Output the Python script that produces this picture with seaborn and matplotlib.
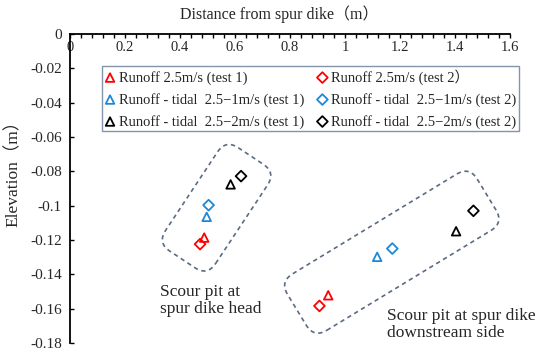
import numpy as np
import pandas as pd
import seaborn as sns
import matplotlib.pyplot as plt
from matplotlib.patches import FancyBboxPatch
from matplotlib.transforms import Affine2D
from matplotlib.ticker import MultipleLocator, FuncFormatter

# --- data ---
x_runoff_t1 = [0.488, 0.939]
y_runoff_t1 = [-0.1186, -0.1522]
x_runoff_t2 = [0.473, 0.907]
y_runoff_t2 = [-0.1224, -0.1584]
x_tidal1_t1 = [0.497, 1.117]
y_tidal1_t1 = [-0.1065, -0.1298]
x_tidal1_t2 = [0.504, 1.172]
y_tidal1_t2 = [-0.0997, -0.1250]
x_tidal2_t1 = [0.584, 1.404]
y_tidal2_t1 = [-0.0876, -0.1149]
x_tidal2_t2 = [0.622, 1.467]
y_tidal2_t2 = [-0.0828, -0.1030]

labels = ["Runoff 2.5m/s (test 1)",
          "Runoff - tidal  2.5\u22121m/s (test 1)",
          "Runoff - tidal  2.5\u22122m/s (test 1)",
          "Runoff 2.5m/s (test 2\uff09",
          "Runoff - tidal  2.5\u22121m/s (test 2)",
          "Runoff - tidal  2.5\u22122m/s (test 2)"]
xs = [x_runoff_t1, x_tidal1_t1, x_tidal2_t1, x_runoff_t2, x_tidal1_t2, x_tidal2_t2]
ys = [y_runoff_t1, y_tidal1_t1, y_tidal2_t1, y_runoff_t2, y_tidal1_t2, y_tidal2_t2]
colors = ["#ff0000", "#1e88d8", "#000000"] * 2
markers = ["^"] * 3 + ["D"] * 3

sns.set_theme(style="white")
FONT = ["Liberation Serif", "Noto Sans CJK SC", "DejaVu Sans"]
plt.rcParams["font.family"] = FONT
plt.rcParams["axes.unicode_minus"] = False

fig = plt.figure(figsize=(5.5, 3.54), dpi=100)
ax = fig.add_axes([70 / 550, 1 - 343 / 354, 440 / 550, 309 / 354])

for x, y, lab, c, m in zip(xs, ys, labels, colors, markers):
    sns.scatterplot(x=x, y=y, ax=ax, marker=m, s=38 if m == "^" else 30,
                    color=c, facecolor="none", edgecolor=c, linewidth=1.3,
                    label=lab)

ax.set_xlim(0, 1.6)
ax.set_ylim(-0.18, 0)
ax.xaxis.set_major_locator(MultipleLocator(0.2))
ax.xaxis.set_minor_locator(MultipleLocator(0.04))
ax.yaxis.set_major_locator(MultipleLocator(0.02))
fmt = FuncFormatter(lambda v, p: "%g" % round(v, 4))
ax.xaxis.set_major_formatter(fmt)
ax.yaxis.set_major_formatter(fmt)

for s in ["right", "bottom"]:
    ax.spines[s].set_visible(False)
for s in ["left", "top"]:
    ax.spines[s].set_color("black")
    ax.spines[s].set_linewidth(1.3)

ax.tick_params(axis="x", which="both", top=True, bottom=False, labeltop=True,
               labelbottom=False, direction="in", color="black", width=1,
               pad=-14.5, labelsize=10.5)
ax.tick_params(axis="x", which="major", length=3)
ax.tick_params(axis="x", which="minor", length=3)
ax.tick_params(axis="y", which="major", left=True, direction="in", length=3,
               width=1, color="black", labelsize=11, pad=6)

ax.set_xlabel("Distance from spur dike\uff08m\uff09", fontsize=11.5)
ax.xaxis.set_label_position("top")
ax.xaxis.set_label_coords((279 - 70) / 440, (343 - 14) / 309)
ax.xaxis.label.set_va("center")
ax.set_ylabel("Elevation\uff08m\uff09", fontsize=12.5)
ax.yaxis.set_label_coords((14 - 70) / 440, (343 - 169) / 309)
ax.yaxis.label.set_va("center")

leg = ax.legend(ncol=2, loc="upper left",
                bbox_to_anchor=(102 / 550, 1 - 66 / 354),
                bbox_transform=fig.transFigure, borderaxespad=0,
                fontsize=10.5, frameon=True, fancybox=False,
                edgecolor="#8494ab", framealpha=1, borderpad=0.2,
                handlelength=0.7, handletextpad=0.25, columnspacing=0.9,
                labelspacing=0.55)
leg.get_frame().set_linewidth(1.0)

# annotation boxes around the two scour pits (rotated rounded rectangles)
fig.canvas.draw()
boxes = [(0.533, -0.1012, 124, 60, 56.5, 15),
         (1.170, -0.1271, 222, 66, 31.3, 15)]
for cx, cy, w, h, ang, r in boxes:
    px, py = ax.transData.transform((cx, cy))
    patch = FancyBboxPatch((-w / 2, -h / 2), w, h,
                           boxstyle="round,pad=0,rounding_size=%d" % r,
                           fill=False, edgecolor="#5b6b82", linewidth=1.2,
                           linestyle=(0, (2.6, 2.2)),
                           transform=Affine2D().rotate_deg(ang).translate(px, py))
    fig.add_artist(patch)

# va="baseline" on multi-line text anchors the last line's baseline
ax.text(0.327, -(313 - 34) / 1716, "Scour pit at\nspur dike head", fontsize=12.5,
        va="baseline", ha="left", linespacing=1.12)
ax.text(1.152, -(337 - 34) / 1716, "Scour pit at spur dike\ndownstream side",
        fontsize=12.5, va="baseline", ha="left", linespacing=1.12)

fig.savefig("out.png", dpi=100)
